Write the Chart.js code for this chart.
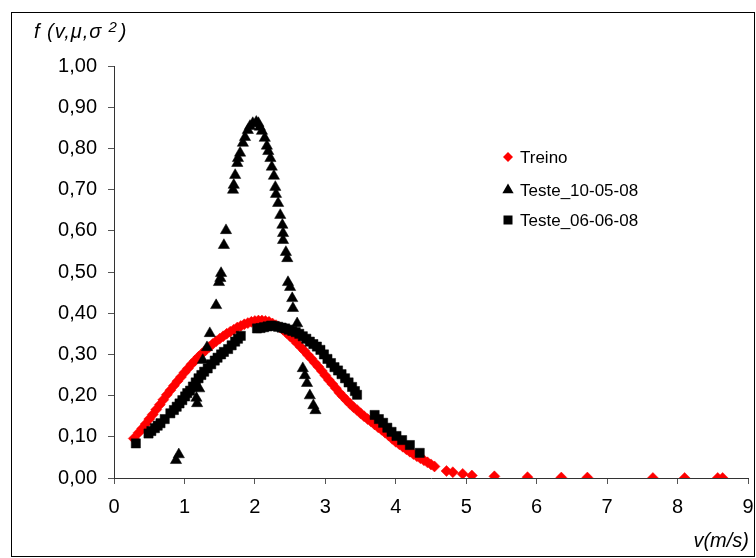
<!DOCTYPE html>
<html><head><meta charset="utf-8">
<script src="https://cdn.jsdelivr.net/npm/chart.js@4.4.0/dist/chart.umd.min.js"></script>
<style>html,body{margin:0;padding:0;background:#fff}#wrap{width:756px;height:558px;position:relative}</style>
</head><body><div id="wrap"><canvas id="c" width="756" height="558"></canvas></div>
<script>
// ---- data ----
const seriesNames = ['Treino', 'Teste_10-05-08', 'Teste_06-06-08'];

const treinoV = [0.28,
  0.35,0.40,0.45,0.50,0.55,0.60,0.65,0.70,0.75,0.80,
  0.85,0.90,0.95,1.00,1.05,1.10,1.15,1.20,1.25,1.30,
  1.35,1.40,1.45,1.50,1.55,1.60,1.65,1.70,1.75,1.80,
  1.85,1.90,1.95,2.00,2.05,2.10,2.15,2.20,2.25,2.30,
  2.35,2.40,2.45,2.50,2.55,2.60,2.65,2.70,2.75,2.80,
  2.85,2.90,2.95,3.00,3.05,3.10,3.15,3.20,3.25,3.30,
  3.35,3.40,3.45,3.50,3.55,3.60,3.65,3.70,3.75,3.80,
  3.85,3.90,3.95,4.00,4.05,4.10,4.15,4.20,4.25,4.30,
  4.35,4.40,4.45,4.50,4.55,
  4.72,4.81,4.95,5.08,5.40,5.87,6.35,6.72,7.65,8.10,8.57,8.64];
const treinoF = [0.096,
  0.110,0.120,0.131,0.143,0.154,0.166,0.178,0.190,0.202,0.213,
  0.224,0.235,0.245,0.256,0.266,0.276,0.285,0.294,0.302,0.310,
  0.318,0.325,0.332,0.338,0.344,0.350,0.355,0.360,0.365,0.369,
  0.373,0.376,0.379,0.381,0.382,0.382,0.381,0.379,0.375,0.371,
  0.366,0.360,0.352,0.344,0.336,0.327,0.318,0.309,0.299,0.290,
  0.280,0.270,0.260,0.249,0.238,0.228,0.218,0.207,0.198,0.189,
  0.180,0.172,0.165,0.157,0.150,0.143,0.137,0.130,0.123,0.117,
  0.110,0.103,0.095,0.088,0.082,0.076,0.070,0.064,0.058,0.053,
  0.048,0.043,0.038,0.033,0.028,
  0.017,0.014,0.010,0.006,0.004,0.002,0.001,0.001,0.000,0.000,0.000,0.000];

const teste1V = [0.88,0.92,1.18,1.17,1.21,1.26,1.32,1.36,1.45,1.49,1.51,1.52,1.56,1.59,
  1.69,1.70,1.72,1.75,1.76,1.79,1.83,1.86,1.90,1.93,1.97,2.02,2.05,2.07,2.10,2.14,2.17,2.19,
  2.22,2.24,2.27,2.29,2.30,2.33,2.36,2.39,2.40,2.40,2.44,2.46,2.47,2.50,2.53,2.54,2.60,
  2.68,2.71,2.74,2.78,2.83,2.86];
const teste1F = [0.043,0.057,0.181,0.194,0.217,0.286,0.317,0.351,0.419,0.475,0.485,0.497,0.565,0.601,
  0.699,0.711,0.735,0.764,0.776,0.789,0.813,0.827,0.844,0.854,0.861,0.864,0.861,0.852,0.842,0.825,0.806,0.793,
  0.776,0.755,0.733,0.706,0.689,0.667,0.638,0.614,0.594,0.577,0.548,0.533,0.475,0.463,0.436,0.412,0.375,
  0.266,0.249,0.230,0.200,0.176,0.164];

const teste2V = [0.31,0.49,0.53,0.58,0.62,0.66,0.72,0.80,0.85,0.89,0.93,0.97,1.01,1.04,1.08,1.12,
  1.16,1.20,1.24,1.28,1.33,1.38,1.43,1.47,1.52,1.56,1.62,1.67,1.72,1.76,1.80,
  2.03,2.08,2.13,2.18,2.23,2.28,2.33,2.38,2.43,2.48,2.53,2.58,2.63,2.68,2.73,2.78,2.83,2.88,
  2.93,2.98,3.03,3.08,3.13,3.18,3.23,3.28,3.33,3.38,3.42,3.45,
  3.70,3.76,3.82,3.88,3.94,4.01,4.09,4.20,4.34];
const teste2F = [0.084,0.108,0.114,0.121,0.127,0.133,0.143,0.157,0.165,0.173,0.181,0.189,0.198,0.206,0.212,0.222,
  0.232,0.242,0.250,0.258,0.266,0.276,0.285,0.292,0.300,0.306,0.313,0.322,0.331,0.338,0.345,
  0.363,0.364,0.366,0.368,0.370,0.369,0.367,0.365,0.363,0.360,0.357,0.354,0.350,0.344,0.338,0.331,0.325,0.319,
  0.311,0.300,0.289,0.279,0.269,0.261,0.252,0.242,0.232,0.221,0.211,0.202,
  0.153,0.143,0.134,0.122,0.112,0.102,0.092,0.080,0.061];

const xTickLabels = ['0','1','2','3','4','5','6','7','8','9'];
const yTickLabels = ['0,00','0,10','0,20','0,30','0,40','0,50','0,60','0,70','0,80','0,90','1,00'];
const xTitle = 'v(m/s)';
const yTitleMain = 'f (v,\u03BC,\u03C3';
const yTitleSup = '2';
const yTitleEnd = ')';

// ---- chart ----
const FONT = "'Liberation Sans', Arial, sans-serif";
const pairs = (xs, ys) => xs.map((x, i) => ({x: x, y: ys[i]}));

function shape(ctx, kind, x, y, r) {
  ctx.beginPath();
  if (kind === 'diamond') {
    ctx.moveTo(x, y - r); ctx.lineTo(x + r, y); ctx.lineTo(x, y + r); ctx.lineTo(x - r, y);
  } else if (kind === 'triangle') {
    ctx.moveTo(x, y - r); ctx.lineTo(x + 0.866 * r, y + 0.5 * r); ctx.lineTo(x - 0.866 * r, y + 0.5 * r);
  } else {
    ctx.rect(x - r, y - r, 2 * r, 2 * r);
  }
  ctx.closePath();
  ctx.fill();
}

const decor = {
  id: 'decor',
  afterDraw(chart) {
    const ctx = chart.ctx;
    ctx.save();
    // outer frame
    ctx.strokeStyle = '#000'; ctx.lineWidth = 1;
    ctx.strokeRect(11.5, 12.5, 743, 544);
    // y title
    ctx.fillStyle = '#000';
    ctx.textBaseline = 'alphabetic';
    ctx.textAlign = 'left';
    ctx.font = 'italic 20px ' + FONT;
    if ('letterSpacing' in ctx) ctx.letterSpacing = '1px';
    ctx.fillText(yTitleMain, 34, 38);
    let w = ctx.measureText(yTitleMain).width;
    ctx.font = 'italic 15px ' + FONT;
    ctx.fillText(yTitleSup, 34 + w + 6, 32);
    let w2 = ctx.measureText(yTitleSup).width;
    ctx.font = 'italic 20px ' + FONT;
    ctx.fillText(yTitleEnd, 34 + w + 6 + w2 + 2, 38);
    if ('letterSpacing' in ctx) ctx.letterSpacing = '0px';
    // x title
    ctx.textAlign = 'right';
    ctx.fillText(xTitle, 749, 547);
    // legend
    const items = [
      {kind: 'diamond', color: '#ff0000', r: 5, y: 157},
      {kind: 'triangle', color: '#000', r: 6.5, y: 190},
      {kind: 'square', color: '#000', r: 4.5, y: 220}
    ];
    ctx.textAlign = 'left';
    ctx.textBaseline = 'middle';
    ctx.font = '17px ' + FONT;
    items.forEach((it, i) => {
      ctx.fillStyle = it.color;
      shape(ctx, it.kind, 508, it.y, it.r);
      ctx.fillStyle = '#000';
      ctx.fillText(seriesNames[i], 520, it.y + 1);
    });
    ctx.restore();
  }
};

new Chart(document.getElementById('c'), {
  type: 'scatter',
  data: {
    datasets: [
      {label: seriesNames[0], data: pairs(treinoV, treinoF), pointStyle: 'rectRot', pointRadius: 5.5,
       backgroundColor: '#ff0000', borderColor: '#ff0000', borderWidth: 0.5, order: 3},
      {label: seriesNames[1], data: pairs(teste1V, teste1F), pointStyle: 'triangle', pointRadius: 6.5,
       backgroundColor: '#000', borderColor: '#000', borderWidth: 0.5, order: 2},
      {label: seriesNames[2], data: pairs(teste2V, teste2F), pointStyle: 'rect', pointRadius: 6.5,
       backgroundColor: '#000', borderColor: '#000', borderWidth: 0.5, order: 1}
    ]
  },
  options: {
    responsive: false,
    animation: false,
    devicePixelRatio: 1,
    events: [],
    layout: {padding: {top: 66, right: 8, left: 0, bottom: 0}},
    plugins: {legend: {display: false}, tooltip: {enabled: false}},
    scales: {
      x: {
        type: 'linear', min: 0, max: 9,
        afterFit(s) { s.height = 80; s.paddingRight = 0; s.paddingLeft = 0; },
        ticks: {stepSize: 1, color: '#000', padding: 11, font: {family: FONT, size: 20},
          callback: (v, i) => xTickLabels[i]},
        grid: {drawOnChartArea: false, drawTicks: true, tickLength: 6, color: '#555'},
        border: {display: true, color: '#333', width: 1}
      },
      y: {
        type: 'linear', min: 0, max: 1,
        afterFit(s) { s.width = 114; s.paddingTop = 0; s.paddingBottom = 0; },
        ticks: {stepSize: 0.1, color: '#000', padding: 11, font: {family: FONT, size: 20},
          callback: (v, i) => yTickLabels[i]},
        grid: {drawOnChartArea: false, drawTicks: true, tickLength: 6, color: '#555'},
        border: {display: true, color: '#333', width: 1}
      }
    }
  },
  plugins: [decor]
});
</script>
</body></html>
